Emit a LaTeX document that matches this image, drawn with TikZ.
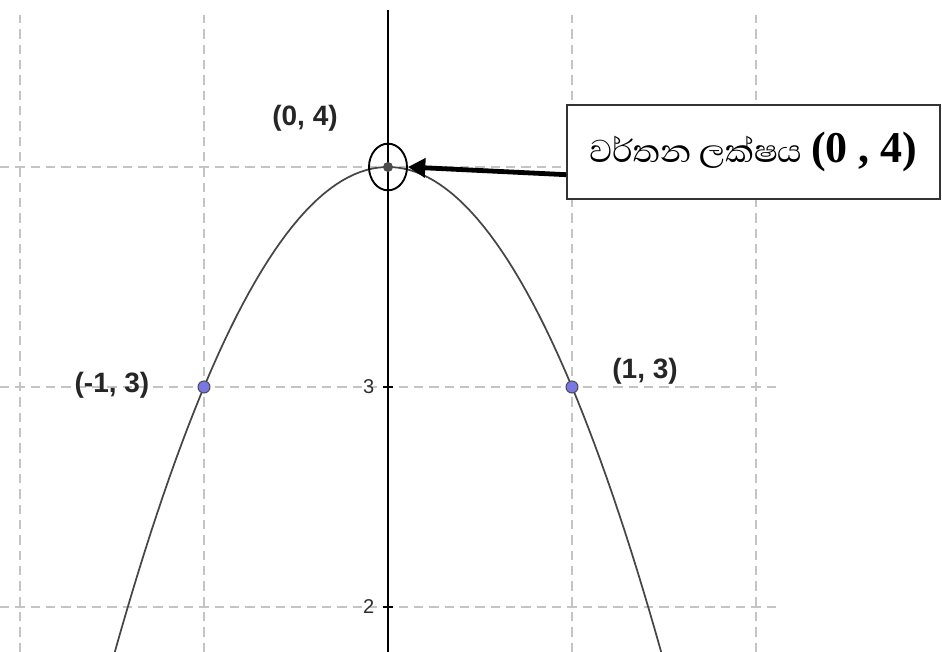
\documentclass[tikz,border=0pt]{standalone}
\usepackage{fontspec}
\setmainfont{Liberation Sans}
\newfontfamily\sinhalafont[Script=Sinhala]{Abhaya Libre}
\newfontfamily\serifnum{Liberation Serif}
\usetikzlibrary{arrows.meta, shapes.geometric}
\definecolor{gridgray}{RGB}{196, 196, 196}
\definecolor{ptblue}{RGB}{120, 120, 228}
\definecolor{curvegray}{RGB}{70, 70, 70}

\begin{document}
\begin{tikzpicture}[
        x=138pt, y=165pt,
        gridline/.style={gridgray, line width=1.1pt, dash pattern=on 7pt off 4.5pt},
        curve/.style={curvegray, line width=1.3pt},
        ptdot/.style={
            circle, draw=black!70, fill=ptblue,
            line width=0.8pt, minimum size=9pt, inner sep=0pt
        },
        vtxdot/.style={circle, fill=black!70, minimum size=7.5pt, inner sep=0pt},
        ringmark/.style={
            ellipse, draw=black, line width=1.4pt,
            minimum width=28.5pt, minimum height=35pt, inner sep=0pt
        },
        ptlbl/.style={font=\fontsize{21}{21}\selectfont\bfseries, text=black!85},
        ticklbl/.style={font=\fontsize{15}{15}\selectfont, text=black!82},
        calloutbox/.style={
            draw=black!80, fill=white, line width=0.9pt,
            minimum width=279.75pt, minimum height=70.5pt
        }
    ]
    \useasboundingbox (-2.1087, 1.7955) rectangle (3.0109, 4.7591);

    % grid
    \foreach \gx in {-2, -1, 1, 2}
        \draw[gridline] (\gx, 1.7955) -- (\gx, 4.69);
    \foreach \gy in {2, 3, 4}
        \draw[gridline] (-2.1087, \gy) -- (2.13, \gy);

    % y-axis
    \draw[black, line width=1.1pt] (0, 1.7955) -- (0, 4.714);
    \foreach \gy in {2, 3}
        \draw[black, line width=0.9pt] (-0.027, \gy) -- (0.027, \gy);
    \node[ticklbl] (t3) at (-0.105, 3) {3};
    \node[ticklbl] (t2) at (-0.105, 2) {2};

    \draw[curve] plot[domain=-1.49:1.49, samples=90] (\x, {4-\x*\x});

    \node[ptdot] (pl) at (-1, 3) {};
    \node[ptdot] (pr) at (1, 3) {};
    \node[vtxdot] (vx) at (0, 4) {};
    \node[ringmark] (ring) at (0, 4) {};

    \node[ptlbl] (lv) at (-0.451, 4.223) {(0, 4)};
    \node[ptlbl] (ll) at (-1.5, 3.01) {(-1, 3)};
    \node[ptlbl] (lr) at (1.397, 3.073) {(1, 3)};

    \node[calloutbox] (note) at (1.986, 4.068)
        {{\sinhalafont\fontsize{30.5}{30.5}\selectfont වර්තන ලක්ෂය}\hspace{7pt}%
         {\serifnum\bfseries\fontsize{33}{33}\selectfont (0 , 4)}};

    \draw[black, line width=3.6pt, -{Triangle[length=13pt, width=14pt]}]
        ([yshift=-17pt]note.west) -- (ring.east);

\end{tikzpicture}
\end{document}
